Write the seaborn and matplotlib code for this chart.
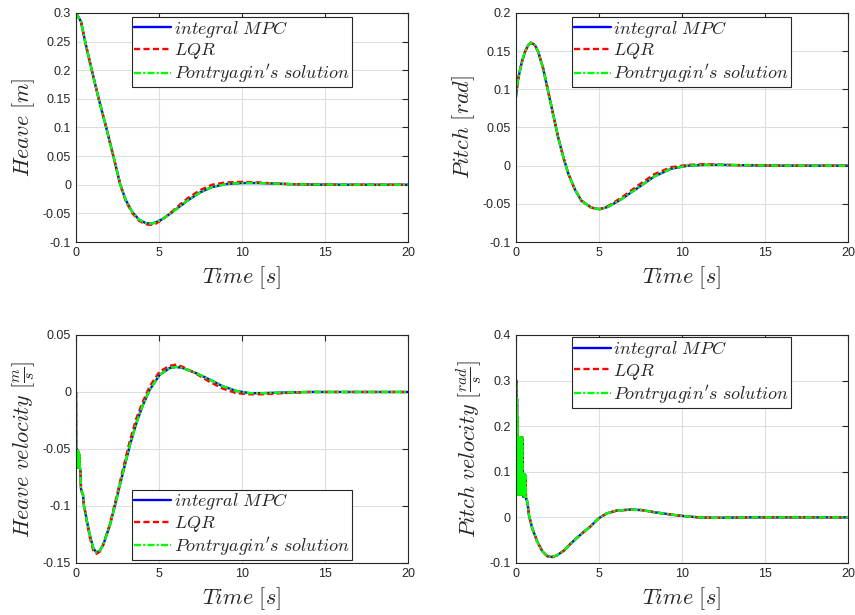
# -*- coding: utf-8 -*-
# Heave / pitch responses: integral MPC vs LQR vs Pontryagin
import numpy as np
import pandas as pd
import seaborn as sns
import matplotlib
matplotlib.use('Agg')
import matplotlib.pyplot as plt

# ---- data ----
t_heave = [0, 0.3, 0.55, 0.95, 1.37, 1.82, 2.25, 2.67, 3.0, 3.4, 3.8, 4.2, 4.5, 4.8, 5.2,
           5.7, 6.2, 6.8, 7.5, 8.2, 9.0, 10.0, 11.0, 12.0, 13.0, 14.0, 16.0, 18.0, 20.0]
heave_mpc = [0.3, 0.285, 0.25, 0.2, 0.15, 0.1, 0.05, 0.0, -0.027, -0.048, -0.061, -0.067, -0.068,
             -0.066, -0.060, -0.050, -0.039, -0.026, -0.013, -0.004, 0.001, 0.003, 0.003, 0.002,
             0.001, 0.0005, 0.0, 0.0, 0.0]
heave_lqr = [0.3, 0.285, 0.25, 0.2, 0.15, 0.1, 0.05, 0.0, -0.029, -0.050, -0.063, -0.069, -0.070,
             -0.068, -0.061, -0.049, -0.036, -0.022, -0.009, 0.000, 0.004, 0.005, 0.004, 0.002,
             0.001, 0.0005, 0.0, 0.0, 0.0]

t_pitch = [0, 0.12, 0.26, 0.4, 0.56, 0.76, 0.92, 1.16, 1.36, 1.66, 1.96, 2.26, 2.56, 2.86, 3.16,
           3.56, 3.96, 4.56, 5.06, 5.56, 6.36, 7.36, 8.36, 9.36, 10.36, 11.36, 12.5, 14, 16, 18, 20]
pitch_mpc = [0.087, 0.110, 0.125, 0.138, 0.149, 0.158, 0.161, 0.158, 0.149, 0.127, 0.097, 0.067,
             0.037, 0.012, -0.010, -0.031, -0.046, -0.055, -0.057, -0.054, -0.044, -0.029, -0.014,
             -0.004, 0.000, 0.001, 0.001, 0.0005, 0.0, 0.0, 0.0]
pitch_lqr = [0.087, 0.110, 0.125, 0.138, 0.149, 0.158, 0.161, 0.158, 0.149, 0.127, 0.097, 0.067,
             0.037, 0.012, -0.010, -0.031, -0.046, -0.055, -0.057, -0.053, -0.042, -0.026, -0.011,
             -0.002, 0.001, 0.002, 0.001, 0.0005, 0.0, 0.0, 0.0]

# heave velocity: chattering band at the start, then smooth response
t_hv = [0, 0.01, 0.03, 0.05, 0.07, 0.09, 0.11, 0.13, 0.15, 0.17, 0.19, 0.21, 0.23, 0.26,
        0.3, 0.36, 0.42, 0.48, 0.54, 0.64, 0.84, 1.04, 1.24, 1.44, 1.64, 2.04, 2.44, 2.84, 3.24,
        3.64, 4.04, 4.44, 5.04, 5.64, 6.04, 6.44, 7.24, 8.04, 8.84, 9.64, 10.44, 11.24, 12.5,
        14, 16, 18, 20]
hv_mpc = [0, -0.050, -0.066, -0.050, -0.066, -0.051, -0.066, -0.052, -0.066, -0.053, -0.066,
          -0.055, -0.066, -0.068, -0.085, -0.088, -0.090, -0.100, -0.104, -0.112, -0.126, -0.137,
          -0.141, -0.139, -0.134, -0.117, -0.094, -0.070, -0.047, -0.027, -0.011, 0.002, 0.015,
          0.021, 0.022, 0.021, 0.0165, 0.011, 0.005, 0.001, -0.001, -0.001, -0.0005, 0, 0, 0, 0]
hv_lqr = [0, -0.050, -0.066, -0.050, -0.066, -0.051, -0.066, -0.052, -0.066, -0.053, -0.066,
          -0.055, -0.066, -0.068, -0.085, -0.088, -0.090, -0.100, -0.104, -0.113, -0.128, -0.139,
          -0.142, -0.140, -0.134, -0.116, -0.092, -0.067, -0.043, -0.023, -0.008, 0.005, 0.018,
          0.023, 0.024, 0.022, 0.016, 0.009, 0.003, -0.001, -0.002, -0.002, -0.001, 0, 0, 0, 0]

# pitch velocity: dense chattering up to 0.6 s
t_pv = [0, 0.02, 0.04, 0.06, 0.08, 0.10, 0.12, 0.14, 0.16, 0.18, 0.20, 0.22, 0.24, 0.26, 0.28,
        0.30, 0.32, 0.34, 0.36, 0.38, 0.40, 0.42, 0.44, 0.46, 0.48, 0.50, 0.52, 0.54, 0.56, 0.58,
        0.60, 0.62, 0.66, 0.72, 0.8, 1.0, 1.3, 1.6, 1.9, 2.2, 2.5, 2.9, 3.3, 3.9, 4.5, 5.0, 5.5,
        6.1, 6.9, 7.6, 8.4, 9.8, 11.0, 12.0, 14, 16, 18, 20]
pv_mpc = [0.01, 0.29, 0.30, 0.05, 0.26, 0.05, 0.22, 0.05, 0.175, 0.05, 0.175, 0.05, 0.175, 0.05,
          0.175, 0.05, 0.175, 0.05, 0.175, 0.05, 0.175, 0.05, 0.095, 0.045, 0.095, 0.045, 0.095,
          0.045, 0.095, 0.045, 0.09, 0.04, 0.04, 0.03, 0.005, -0.024, -0.053, -0.074, -0.085,
          -0.087, -0.083, -0.073, -0.058, -0.038, -0.020, -0.002, 0.009, 0.015, 0.017, 0.016,
          0.011, 0.004, 0.0, -0.001, 0.0, 0.0, 0.0, 0.0]
pv_lqr = pv_mpc

labels = [r'$integral\ MPC$', r'$LQR$', r"$Pontryagin's\ solution$"]

heave_ticks = [-0.1, -0.05, 0, 0.05, 0.1, 0.15, 0.2, 0.25, 0.3]
heave_ticklabels = ['-0.1', '-0.05', '0', '0.05', '0.1', '0.15', '0.2', '0.25', '0.3']
pitch_ticks = [-0.1, -0.05, 0, 0.05, 0.1, 0.15, 0.2]
pitch_ticklabels = ['-0.1', '-0.05', '0', '0.05', '0.1', '0.15', '0.2']
hv_ticks = [-0.15, -0.1, -0.05, 0, 0.05]
hv_ticklabels = ['-0.15', '-0.1', '-0.05', '0', '0.05']
pv_ticks = [-0.1, 0, 0.1, 0.2, 0.3, 0.4]
pv_ticklabels = ['-0.1', '0', '0.1', '0.2', '0.3', '0.4']
time_ticks = [0, 5, 10, 15, 20]

# ---- style ----
sns.set_style('white')
plt.rcParams['font.family'] = ['Liberation Sans', 'DejaVu Sans']
plt.rcParams['mathtext.fontset'] = 'cm'
dark = '#262626'
lw = 1.7

fig = plt.figure(figsize=(8.55, 6.15), dpi=100)
ax1 = fig.add_axes([0.0889, 0.6065, 0.3883, 0.3724])
ax2 = fig.add_axes([0.6031, 0.6065, 0.3886, 0.3724])
ax3 = fig.add_axes([0.0889, 0.0846, 0.3883, 0.3707])
ax4 = fig.add_axes([0.6031, 0.0846, 0.3886, 0.3707])

panels = [
    (ax1, t_heave, heave_mpc, heave_lqr, heave_mpc, heave_ticks, heave_ticklabels,
     r'$Heave\ [m]$', ('upper left', (0.169, 0.983))),
    (ax2, t_pitch, pitch_mpc, pitch_lqr, pitch_mpc, pitch_ticks, pitch_ticklabels,
     r'$Pitch\ [rad]$', ('upper left', (0.169, 0.983))),
    (ax3, t_hv, hv_mpc, hv_lqr, hv_mpc, hv_ticks, hv_ticklabels,
     r'$Heave\ velocity\ [\frac{m}{s}]$', ('lower left', (0.169, 0.013))),
    (ax4, t_pv, pv_mpc, pv_lqr, pv_mpc, pv_ticks, pv_ticklabels,
     r'$Pitch\ velocity\ [\frac{rad}{s}]$', ('upper left', (0.169, 0.99))),
]

for ax, t, y_mpc, y_lqr, y_pon, yt, ytl, ylab, (loc, anchor) in panels:
    sns.lineplot(x=t, y=y_mpc, ax=ax, color=(0, 0, 1), lw=lw, label=labels[0])
    sns.lineplot(x=t, y=y_lqr, ax=ax, color=(1, 0, 0), lw=lw, dashes=False, label=labels[1])
    sns.lineplot(x=t, y=y_pon, ax=ax, color=(0, 1, 0), lw=lw, dashes=False, label=labels[2])
    ax.lines[1].set_dashes((2.6, 1.4))
    ax.lines[2].set_dashes((3.0, 0.9, 0.9, 0.9))
    ax.set_xlim(0, 20)
    ax.set_ylim(yt[0], yt[-1])
    ax.set_xticks(time_ticks)
    ax.set_xticklabels([str(v) for v in time_ticks])
    ax.set_yticks(yt)
    ax.set_yticklabels(ytl)
    ax.grid(True, color='#dedede', lw=0.8)
    ax.tick_params(direction='in', length=4, width=0.8, colors=dark, labelsize=9,
                   top=True, right=True, labelcolor=dark)
    for s in ax.spines.values():
        s.set_color(dark)
        s.set_linewidth(0.8)
    ax.set_xlabel(r'$Time\ [s]$', fontsize=16, color=dark)
    ax.set_ylabel(ylab, fontsize=16, color=dark)
    leg = ax.legend(loc=loc, bbox_to_anchor=anchor, borderaxespad=0, fontsize=13,
                    fancybox=False, framealpha=1, edgecolor=dark, handlelength=2.05,
                    handletextpad=0.15, labelspacing=0.08, borderpad=0.1)
    leg.get_frame().set_linewidth(0.8)

fig.savefig('out.png', dpi=100)
